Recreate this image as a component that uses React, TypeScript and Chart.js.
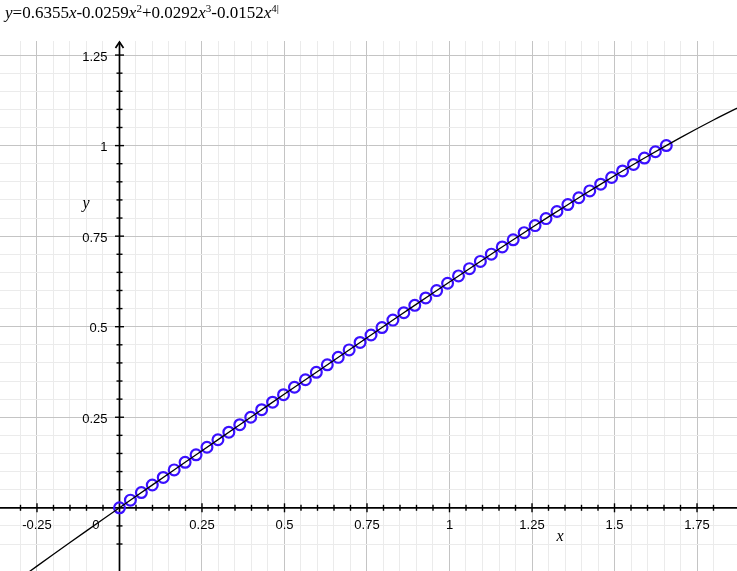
import React, { useEffect, useRef } from "react";
import { Chart, registerables } from "chart.js";

Chart.register(...registerables);

// ---- data ----
const pointX = [
  0, 0.0331, 0.0663, 0.0994, 0.1326, 0.1657, 0.1988, 0.232, 0.2651, 0.2983,
  0.3314, 0.3645, 0.3977, 0.4308, 0.464, 0.4971, 0.5302, 0.5634, 0.5965,
  0.6297, 0.6628, 0.6959, 0.7291, 0.7622, 0.7954, 0.8285, 0.8616, 0.8948,
  0.9279, 0.9611, 0.9942, 1.0273, 1.0605, 1.0936, 1.1268, 1.1599, 1.193,
  1.2262, 1.2593, 1.2925, 1.3256, 1.3587, 1.3919, 1.425, 1.4582, 1.4913,
  1.5244, 1.5576, 1.5907, 1.6239, 1.657,
];
const pointY = [
  0, 0.0211, 0.0421, 0.0629, 0.0838, 0.1047, 0.1256, 0.1463, 0.1671, 0.1879,
  0.2087, 0.2294, 0.25, 0.2708, 0.2915, 0.3122, 0.3329, 0.3535, 0.3741, 0.3948,
  0.4154, 0.436, 0.4565, 0.4771, 0.4977, 0.5182, 0.5387, 0.559, 0.5794,
  0.5997, 0.62, 0.6402, 0.6603, 0.6803, 0.7003, 0.7202, 0.7399, 0.7596,
  0.7791, 0.7984, 0.8181, 0.8372, 0.8561, 0.8749, 0.8935, 0.9119, 0.93,
  0.948, 0.9656, 0.983, 1.0002,
];
const curveX = [
  -0.4, -0.3, -0.2, -0.1, 0, 0.1, 0.2, 0.3, 0.4, 0.5, 0.6, 0.7, 0.8, 0.9, 1,
  1.1, 1.2, 1.3, 1.4, 1.5, 1.6, 1.7, 1.8, 1.9,
];
const curveY = [
  -0.2606, -0.1939, -0.1284, -0.0638, 0, 0.0633, 0.1263, 0.189, 0.2515, 0.314,
  0.3763, 0.4385, 0.5006, 0.5623, 0.6236, 0.6843, 0.7442, 0.8031, 0.8607,
  0.9166, 0.9705, 1.022, 1.0707, 1.1162,
];
const xTickValues = [-0.25, 0, 0.25, 0.5, 0.75, 1, 1.25, 1.5, 1.75];
const xTickLabels = ["-0.25", "0", "0.25", "0.5", "0.75", "1", "1.25", "1.5", "1.75"];
const yTickValues = [0.25, 0.5, 0.75, 1, 1.25];
const yTickLabels = ["0.25", "0.5", "0.75", "1", "1.25"];

const X_MIN = -0.3621;
const X_MAX = 1.8712;
const Y_MIN = -0.1745;
const Y_MAX = 1.2888;
const MINOR = 0.05;
const MAJOR = 0.25;

const isMajor = (v: number) => Math.abs(v / MAJOR - Math.round(v / MAJOR)) < 1e-6;
const isMinorTick = (v: number) => Math.abs(v / MINOR - Math.round(v / MINOR)) < 1e-6;

const gridColor = (c: any) => {
  const v = c.tick ? c.tick.value : 0;
  if (!isMinorTick(v)) return "rgba(0,0,0,0)";
  return isMajor(v) ? "#c4c4c4" : "#ebebeb";
};

const axesPlugin = {
  id: "centerAxes",
  beforeDatasetsDraw(chart: any) {
    const { ctx, chartArea, scales } = chart;
    const xs = scales.x;
    const ys = scales.y;
    const x0 = xs.getPixelForValue(0);
    const y0 = ys.getPixelForValue(0);
    ctx.save();
    ctx.strokeStyle = "#000";
    ctx.fillStyle = "#000";
    ctx.lineWidth = 1.7;
    // x axis
    ctx.beginPath();
    ctx.moveTo(chartArea.left, y0);
    ctx.lineTo(chartArea.right, y0);
    ctx.stroke();
    // y axis
    ctx.beginPath();
    ctx.moveTo(x0, chartArea.bottom);
    ctx.lineTo(x0, chartArea.top + 1);
    ctx.stroke();
    // arrow
    ctx.beginPath();
    ctx.moveTo(x0 - 4, chartArea.top + 7);
    ctx.lineTo(x0, chartArea.top + 1);
    ctx.lineTo(x0 + 4, chartArea.top + 7);
    ctx.stroke();
    // tick marks
    ctx.lineWidth = 1.4;
    xs.ticks.forEach((t: any) => {
      const v = t.value;
      if (!isMinorTick(v) || Math.abs(v) < 1e-9) return;
      const p = xs.getPixelForValue(v);
      const len = isMajor(v) ? 4.5 : 3;
      ctx.beginPath();
      ctx.moveTo(p, y0 - len);
      ctx.lineTo(p, y0 + len);
      ctx.stroke();
    });
    ys.ticks.forEach((t: any) => {
      const v = t.value;
      if (!isMinorTick(v) || Math.abs(v) < 1e-9) return;
      const p = ys.getPixelForValue(v);
      if (p < chartArea.top + 8) return;
      const len = isMajor(v) ? 4.5 : 3;
      ctx.beginPath();
      ctx.moveTo(x0 - len, p);
      ctx.lineTo(x0 + len, p);
      ctx.stroke();
    });
    // tick labels
    ctx.font = '13px "Liberation Sans", Arial, sans-serif';
    ctx.textBaseline = "middle";
    xTickValues.forEach((v, i) => {
      const p = xs.getPixelForValue(v);
      if (v === 0) {
        ctx.textAlign = "right";
        ctx.fillText(xTickLabels[i], x0 - 20, y0 + 18);
      } else {
        ctx.textAlign = "center";
        ctx.fillText(xTickLabels[i], p, y0 + 18);
      }
    });
    ctx.textAlign = "right";
    yTickValues.forEach((v, i) => {
      const p = ys.getPixelForValue(v);
      ctx.fillText(yTickLabels[i], x0 - 12, p + 2);
    });
    // axis titles
    ctx.font = 'italic 16px "Liberation Serif", "Times New Roman", serif';
    ctx.textAlign = "center";
    ctx.fillText("x", 560, y0 + 29);
    ctx.fillText("y", 86, ys.getPixelForValue(0.84));
    ctx.restore();
  },
};

export default function App() {
  const ref = useRef<HTMLCanvasElement | null>(null);
  useEffect(() => {
    if (!ref.current) return;
    const chart = new Chart(ref.current, {
      type: "scatter",
      data: {
        datasets: [
          {
            label: "curve",
            data: curveX.map((x, i) => ({ x, y: curveY[i] })),
            showLine: true,
            borderColor: "#000",
            borderWidth: 1.3,
            pointRadius: 0,
            pointHoverRadius: 0,
            tension: 0.3,
            fill: false,
          },
          {
            label: "points",
            data: pointX.map((x, i) => ({ x, y: pointY[i] })),
            showLine: false,
            pointStyle: "circle",
            pointRadius: 5.4,
            pointBorderWidth: 2.2,
            pointBorderColor: "#3a10ff",
            pointBackgroundColor: "rgba(0,0,0,0)",
            borderColor: "#3a10ff",
            backgroundColor: "rgba(0,0,0,0)",
          },
        ],
      },
      options: {
        animation: false,
        responsive: false,
        devicePixelRatio: 1,
        layout: { autoPadding: false, padding: { top: 41, left: 0, right: 0, bottom: 0 } },
        plugins: {
          legend: { display: false },
          tooltip: { enabled: false },
          title: { display: false },
        },
        scales: {
          x: {
            type: "linear",
            min: X_MIN,
            max: X_MAX,
            ticks: { display: false, stepSize: MINOR },
            grid: { color: gridColor, lineWidth: 1, drawTicks: false },
            border: { display: false },
          },
          y: {
            type: "linear",
            min: Y_MIN,
            max: Y_MAX,
            ticks: { display: false, stepSize: MINOR },
            grid: { color: gridColor, lineWidth: 1, drawTicks: false },
            border: { display: false },
          },
        },
      },
      plugins: [axesPlugin],
    });
    return () => chart.destroy();
  }, []);

  const serif = '"Liberation Serif", "Times New Roman", serif';
  const supStyle: React.CSSProperties = { fontSize: "11px", verticalAlign: "6px", lineHeight: 0 };
  return (
    <div style={{ position: "absolute", left: 0, top: 0, width: 737, height: 571, background: "#fff" }}>
      <canvas ref={ref} width={737} height={571} style={{ position: "absolute", left: 0, top: 0 }} />
      <div
        style={{
          position: "absolute",
          left: 5,
          top: 3,
          fontFamily: serif,
          fontSize: "17px",
          color: "#000",
          whiteSpace: "nowrap",
          lineHeight: "20px",
        }}
      >
        <i>y</i>=0.6355<i>x</i>-0.0259<i>x</i>
        <span style={supStyle}>2</span>+0.0292<i>x</i>
        <span style={supStyle}>3</span>-0.0152<i>x</i>
        <span style={supStyle}>4|</span>
      </div>
    </div>
  );
}
